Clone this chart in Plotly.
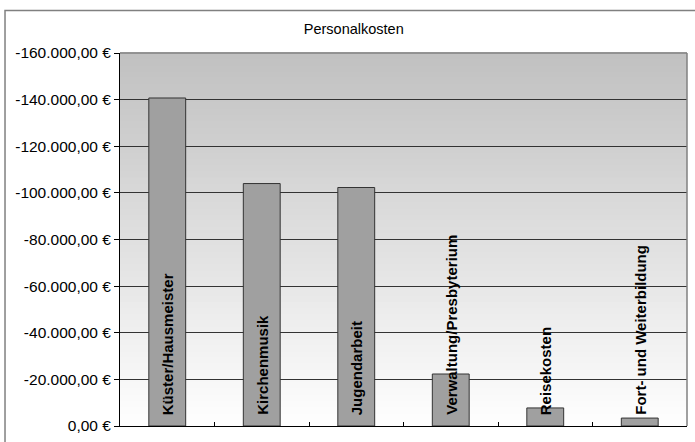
import plotly.graph_objects as go

# Personnel cost categories and their (negative) amounts in euro
categories = [
    "Küster/Hausmeister",
    "Kirchenmusik",
    "Jugendarbeit",
    "Verwaltung/Presbyterium",
    "Reisekosten",
    "Fort- und Weiterbildung",
]
amounts = [-140700, -104000, -102300, -22300, -7750, -3400]

tick_values = [0, -20000, -40000, -60000, -80000, -100000, -120000, -140000, -160000]
tick_labels = [
    "0,00 €",
    "-20.000,00 €",
    "-40.000,00 €",
    "-60.000,00 €",
    "-80.000,00 €",
    "-100.000,00 €",
    "-120.000,00 €",
    "-140.000,00 €",
    "-160.000,00 €",
]

FONT = "Liberation Sans, Arial, sans-serif"

fig = go.Figure()
fig.add_trace(
    go.Bar(
        x=categories,
        y=amounts,
        marker=dict(color="#a0a0a0", line=dict(color="#333333", width=1)),
        showlegend=False,
        hoverinfo="x+y",
    )
)

shapes = []
# vertical grey gradient behind the plot area (dark at top, white at bottom)
n_bands = 60
for i in range(n_bands):
    t = i / n_bands
    level = int(round(255 - 63 * (t + 0.5 / n_bands)))
    shapes.append(
        dict(
            type="rect",
            xref="x domain",
            yref="y domain",
            x0=0,
            x1=1,
            y0=t,
            y1=t + 1 / n_bands + 0.002,
            line=dict(width=0),
            fillcolor=f"rgb({level},{level},{level})",
            layer="below",
        )
    )
# grey frame on top and right of the plot area
shapes.append(dict(type="line", xref="x domain", yref="y domain", x0=0, x1=1, y0=1, y1=1,
                   line=dict(color="#808080", width=1.5), layer="above"))
shapes.append(dict(type="line", xref="x domain", yref="y domain", x0=1, x1=1, y0=0, y1=1,
                   line=dict(color="#808080", width=1.5), layer="above"))
# outer chart border
shapes.append(dict(type="rect", xref="paper", yref="paper", x0=-0.2028, x1=1.05, y0=-0.1, y1=1.1138,
                   line=dict(color="#808080", width=1.5), fillcolor="rgba(0,0,0,0)", layer="above"))

# category names written vertically from the base of each bar
annotations = []
for cat in categories:
    annotations.append(
        dict(
            x=cat,
            y=0,
            xref="x",
            yref="y",
            text=f"<b>{cat}</b>",
            textangle=-90,
            showarrow=False,
            xanchor="center",
            yanchor="bottom",
            yshift=9,
            font=dict(family=FONT, size=15, color="black"),
        )
    )

fig.update_layout(
    width=695,
    height=442,
    margin=dict(l=120, r=8, t=53, b=11),
    paper_bgcolor="white",
    plot_bgcolor="white",
    bargap=0.61,
    font=dict(family=FONT, size=15, color="black"),
    title=dict(
        text="Personalkosten",
        x=0.509,
        y=0.934,
        xanchor="center",
        yanchor="middle",
        font=dict(family=FONT, size=14.5, color="black"),
    ),
    shapes=shapes,
    annotations=annotations,
    xaxis=dict(
        showticklabels=False,
        showgrid=False,
        showline=True,
        linecolor="black",
        linewidth=1,
        ticks="inside",
        tickson="boundaries",
        ticklen=4,
        tickcolor="black",
        zeroline=False,
    ),
    yaxis=dict(
        range=[0, -160000],
        tickvals=tick_values,
        ticktext=tick_labels,
        ticks="outside",
        ticklen=5,
        tickcolor="black",
        showline=True,
        linecolor="black",
        linewidth=1,
        showgrid=True,
        gridcolor="#333333",
        gridwidth=1,
        zeroline=False,
        tickfont=dict(family=FONT, size=15.5, color="black"),
    ),
)

fig.write_html("out.html")
